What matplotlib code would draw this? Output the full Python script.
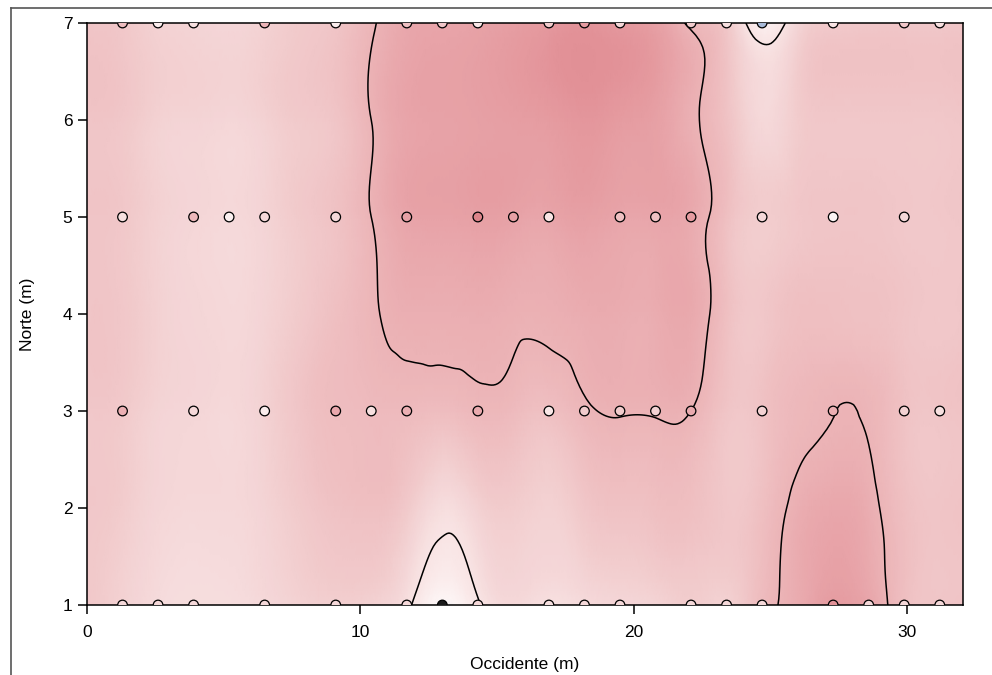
import numpy as np
import matplotlib
matplotlib.use('Agg')
import matplotlib.pyplot as plt
import matplotlib.tri as mtri
from matplotlib.colors import LinearSegmentedColormap, Normalize
from matplotlib.lines import Line2D

plt.rcParams['font.family'] = ['Liberation Sans', 'DejaVu Sans']

# ---- interpolated surface values, grid nodes ----
grid_x = [round(1.3 * k, 1) for k in range(26)]
grid_y = [1, 2, 3, 4, 5, 6, 7]
field_y1 = [52, 48, 44, 43, 43, 45, 48, 49, 48, 42, 28, 39, 45, 42, 44, 46, 47, 50, 48, 57, 63, 70, 66, 55, 53, 54]
field_y2 = [52, 50, 46, 45, 45, 47, 51, 54, 55, 51, 43, 48, 50, 48, 52, 54, 55, 55, 52, 55, 62, 65, 62.5, 55, 53, 54]
field_y3 = [52, 51, 47, 46, 45, 48, 53, 56, 57, 57, 56, 58, 57, 55, 58.8, 60.5, 60.6, 60, 53, 54, 58, 59.9, 59.3, 54, 53, 54]
field_y4 = [53, 52, 48, 46, 45, 47, 51, 55, 59, 62, 62, 62.5, 61.5, 61.5, 63, 63, 63, 64, 55, 52, 55, 55, 54.5, 53, 52, 53]
field_y5 = [53, 52, 48, 46, 45, 47, 51, 54, 60, 66, 67, 68, 67, 66, 68, 66, 66, 64, 55, 50, 52, 53, 53, 52, 52, 53]
field_y6 = [53, 52, 48, 47, 46, 48, 51, 53, 60, 66, 67, 68, 69, 70, 72, 70, 68, 61.5, 54, 45, 50, 52, 52, 52, 52, 53]
field_y7 = [53, 52, 48, 47, 46, 48, 51, 53, 59, 65, 66, 67, 69, 71, 73, 71, 68, 58.5, 52, 33, 46, 51, 52, 52, 52, 53]
contour_levels = [40, 60]

# ---- sample points ----
row7_x = [1.3, 2.6, 3.9, 6.5, 9.1, 11.7, 13.0, 14.3, 16.9, 18.2, 19.5, 22.1, 23.4, 24.7, 27.3, 29.9, 31.2]
row7_v = [56, 35, 42, 60, 35, 55, 52, 38, 50, 70, 45, 50, 42, 12, 40, 52, 42]
row5_x = [1.3, 3.9, 5.2, 6.5, 9.1, 11.7, 14.3, 15.6, 16.9, 19.5, 20.8, 22.1, 24.7, 27.3, 29.9]
row5_v = [42, 58, 33, 45, 45, 68, 80, 68, 40, 55, 55, 70, 45, 30, 45]
row3_x = [1.3, 3.9, 6.5, 9.1, 10.4, 11.7, 14.3, 16.9, 18.2, 19.5, 20.8, 22.1, 24.7, 27.3, 29.9, 31.2]
row3_v = [62, 45, 35, 65, 42, 62, 64, 38, 50, 50, 48, 64, 48, 62, 48, 42]
row1_x = [1.3, 2.6, 3.9, 6.5, 9.1, 11.7, 13.0, 14.3, 16.9, 18.2, 19.5, 22.1, 23.4, 24.7, 27.3, 28.6, 29.9, 31.2]
row1_v = [45, 45, 45, 45, 45, 45, -10, 45, 42, 45, 45, 45, 45, 45, 74, 45, 45, 45]

x_ticks = [0, 10, 20, 30]
y_ticks = [1, 2, 3, 4, 5, 6, 7]

# ---- colormap ----
stops = [(0.00, (0.50, 0.60, 0.78)),
         (0.12, (0.66, 0.73, 0.85)),
         (0.30, (0.99, 0.96, 0.96)),
         (0.40, (0.975, 0.895, 0.895)),
         (0.47, (0.955, 0.83, 0.835)),
         (0.55, (0.937, 0.753, 0.76)),
         (0.62, (0.92, 0.685, 0.70)),
         (0.72, (0.894, 0.59, 0.612)),
         (0.85, (0.85, 0.47, 0.50)),
         (1.00, (0.80, 0.36, 0.40))]
cmap = LinearSegmentedColormap.from_list('pinkred', stops)
cmap.set_under('#1a1a1a')
norm = Normalize(vmin=0, vmax=100)

fig = plt.figure(figsize=(9.92, 6.75), dpi=100)
ax = fig.add_axes([87 / 992, 1 - 605 / 675, (963 - 87) / 992, (605 - 23) / 675])

GX, GY = np.meshgrid(np.array(grid_x, float), np.array(grid_y, float))
Z = np.array([field_y1, field_y2, field_y3, field_y4, field_y5, field_y6, field_y7], float)
tri = mtri.Triangulation(GX.ravel(), GY.ravel())
refiner = mtri.UniformTriRefiner(tri)
tri_f, z_f = refiner.refine_field(Z.ravel(), subdiv=4)

ax.tripcolor(tri_f, z_f, shading='gouraud', cmap=cmap, norm=norm, zorder=1)
ax.tricontour(tri_f, z_f, levels=contour_levels, colors='black', linewidths=1.1, zorder=2)

for xs, yv, vs in [(row7_x, 7, row7_v), (row5_x, 5, row5_v), (row3_x, 3, row3_v), (row1_x, 1, row1_v)]:
    ax.scatter(xs, [yv] * len(xs), c=vs, cmap=cmap, norm=norm, s=48,
               edgecolors='black', linewidths=0.9, zorder=3, clip_on=True)

ax.set_xlim(0, 32.05)
ax.set_ylim(1, 7)
ax.set_xticks(x_ticks)
ax.set_yticks(y_ticks)
ax.tick_params(direction='out', length=6.5, width=1.1, labelsize=12.5, pad=4, colors='black')
ax.tick_params(axis='x', pad=8)
for s in ax.spines.values():
    s.set_linewidth(1.1)
    s.set_color('black')
ax.set_xlabel('Occidente (m)', fontsize=12.5, labelpad=12)
ax.set_ylabel('Norte (m)', fontsize=12.5, labelpad=20)

# outer screenshot frame
fig.add_artist(Line2D([11 / 992, 11 / 992], [0, 1 - 8 / 675], transform=fig.transFigure,
                      color='#555555', lw=1.2))
fig.add_artist(Line2D([11 / 992, 1], [1 - 8 / 675, 1 - 8 / 675], transform=fig.transFigure,
                      color='#555555', lw=1.2))

fig.savefig('out.png', dpi=100)
